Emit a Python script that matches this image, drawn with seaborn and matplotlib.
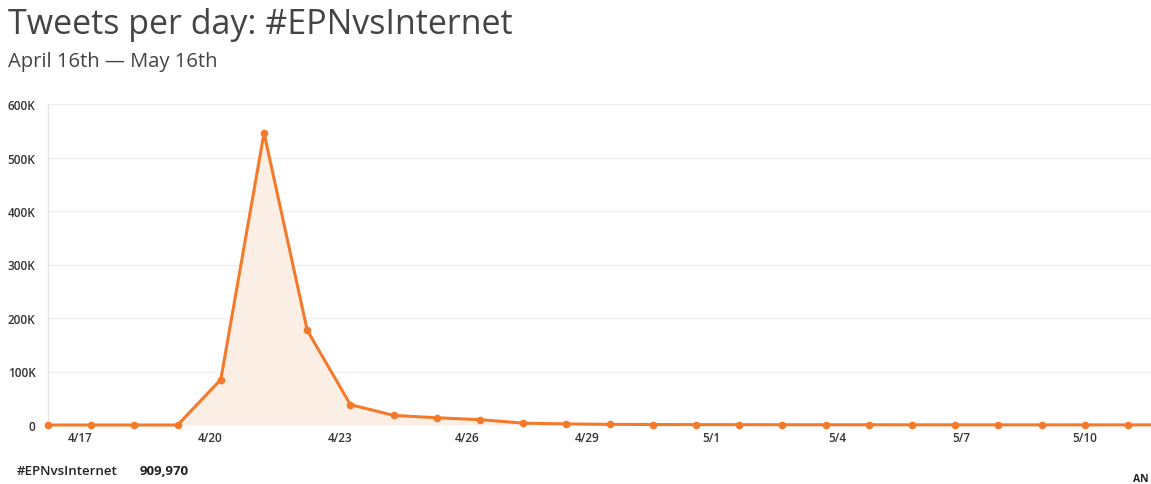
import numpy as np
import pandas as pd
import matplotlib
matplotlib.use("Agg")
import matplotlib.pyplot as plt
import seaborn as sns
from matplotlib.ticker import FuncFormatter

# daily tweet counts, one point per day starting 4/16
day_index = list(range(27))
tweets = [0, 0, 0, 0, 85000, 546000, 177000, 38000, 18000, 13500, 10000,
          3500, 2000, 1200, 900, 700, 600, 500, 450, 400, 350, 300, 300,
          250, 250, 200, 200]

# x tick labels and where they sit on the day axis
tick_pos = [0.74, 3.75, 6.76, 9.70, 12.48, 15.35, 18.26, 21.13, 24.0]
tick_labels = ["4/17", "4/20", "4/23", "4/26", "4/29", "5/1", "5/4", "5/7", "5/10"]
y_ticks = [0, 100000, 200000, 300000, 400000, 500000, 600000]

hashtag = "#EPNvsInternet"
total = 909970

df = pd.DataFrame({"day": day_index, "tweets": tweets})

sns.set_theme(style="white")
plt.rcParams["font.family"] = ["Open Sans", "DejaVu Sans"]

line_color = "#f47a2b"
fill_color = "#fbeee4"

fig = plt.figure(figsize=(11.51, 4.85), dpi=100)
ax = fig.add_axes([48 / 1151, 1 - 426 / 485, 1 - 48 / 1151, (426 - 105) / 485])

ax.fill_between(df["day"], df["tweets"], 0, color=fill_color, zorder=1, linewidth=0)
sns.lineplot(data=df, x="day", y="tweets", ax=ax, color=line_color, linewidth=2.2,
             marker="o", markersize=5.5, markeredgewidth=0, clip_on=False, zorder=3)

ax.set_xlim(0, 25.53)
ax.set_ylim(0, 600000)
ax.set_yticks(y_ticks)
ax.yaxis.set_major_formatter(FuncFormatter(lambda v, p: "0" if v == 0 else f"{int(v / 1000)}K"))
ax.set_xticks(tick_pos)
ax.set_xticklabels(tick_labels)
ax.grid(axis="y", color="#efefef", linewidth=1)
ax.set_axisbelow(True)

for s in ["top", "right", "bottom"]:
    ax.spines[s].set_visible(False)
ax.spines["left"].set_color("#e6e6e6")
ax.spines["left"].set_linewidth(1)

ax.tick_params(axis="both", length=0, labelsize=8.5, labelcolor="#333333")
ax.tick_params(axis="y", pad=9)
ax.tick_params(axis="x", pad=4)
for lbl in ax.get_xticklabels() + ax.get_yticklabels():
    lbl.set_fontweight("semibold")
ax.set_xlabel("")
ax.set_ylabel("")

fig.text(8 / 1151, 1 - 25 / 485, "Tweets per day: #EPNvsInternet", fontsize=24.5,
         color="#444444", va="center", ha="left")
fig.text(8 / 1151, 1 - 62 / 485, "April 16th \u2014 May 16th", fontsize=14.5,
         color="#444444", va="center", ha="left")

fig.text(17 / 1151, 1 - 472 / 485, hashtag, fontsize=9.5, fontweight="semibold",
         color="#222222", va="center", ha="left")
fig.text(140 / 1151, 1 - 472 / 485, f"{total:,}", fontsize=9.5, fontweight="bold",
         color="#222222", va="center", ha="left")
fig.text(1133 / 1151, 1 - 480 / 485, "AN", fontsize=7.5, fontweight="bold",
         color="#222222", va="center", ha="left")

fig.savefig("out.png", dpi=100)
